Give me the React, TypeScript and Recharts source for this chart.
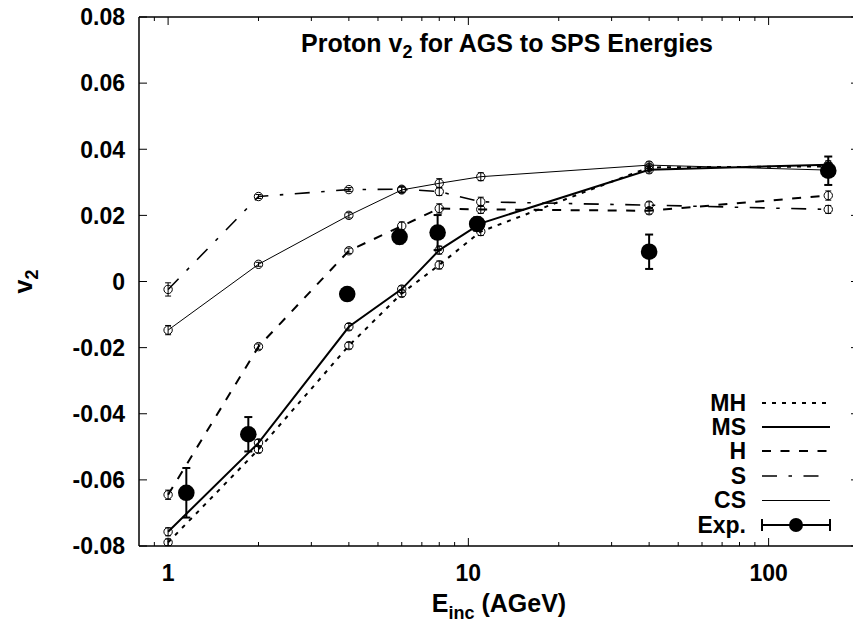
import {
  ComposedChart,
  Line,
  Scatter,
  XAxis,
  YAxis,
  ErrorBar,
  Label,
} from 'recharts';

// model energies (AGeV)
const energies = [1, 2, 4, 6, 8, 11, 40, 158];

const mhValues = [-0.0789, -0.0508, -0.0194, -0.0036, 0.005, 0.0151, 0.0345, 0.0348];
const mhErrors = [0.001, 0.001, 0.001, 0.001, 0.0012, 0.0012, 0.001, 0.0012];

const msValues = [-0.0757, -0.0488, -0.0137, -0.0023, 0.0095, 0.0176, 0.0338, 0.0353];
const msErrors = [0.0012, 0.001, 0.001, 0.001, 0.0012, 0.0012, 0.001, 0.0012];

const hValues = [-0.0645, -0.0197, 0.0093, 0.0168, 0.0221, 0.0218, 0.0214, 0.026];
const hErrors = [0.0014, 0.0008, 0.0008, 0.0012, 0.0014, 0.0012, 0.001, 0.0014];

const sValues = [-0.0024, 0.0257, 0.0278, 0.0279, 0.0272, 0.0241, 0.0231, 0.0218];
const sErrors = [0.002, 0.0006, 0.0006, 0.0008, 0.0012, 0.0014, 0.001, 0.0012];

const csValues = [-0.0147, 0.0052, 0.02, 0.0277, 0.0297, 0.0317, 0.0352, 0.0337];
const csErrors = [0.0014, 0.0006, 0.0008, 0.0008, 0.0014, 0.0012, 0.001, 0.001];

// experimental points
const expEnergies = [1.15, 1.85, 3.95, 5.9, 7.9, 10.7, 40, 158];
const expValues = [-0.0639, -0.0462, -0.0038, 0.0135, 0.0148, 0.0174, 0.009, 0.0335];
const expErrors = [0.0075, 0.0052, 0.001, 0.002, 0.0053, 0.002, 0.0052, 0.0043];

// axes
const xMajorTicks = [1, 10, 100];
const xMinorTicks = [0.9, 2, 3, 4, 5, 6, 7, 8, 9, 20, 30, 40, 50, 60, 70, 80, 90];
const yTicks = [-0.08, -0.06, -0.04, -0.02, 0, 0.02, 0.04, 0.06, 0.08];

const FONT = '"Liberation Sans", Arial, Helvetica, sans-serif';
const FS = 23;
const TITLE_FS = 25;

const toRows = (xs: number[], vs: number[], es: number[]) =>
  xs.map((e, i) => ({ e, v: vs[i], err: es[i] }));

const series = [
  { name: 'MH', values: mhValues, errors: mhErrors, width: 2, dash: '4 6' },
  { name: 'MS', values: msValues, errors: msErrors, width: 2, dash: undefined },
  { name: 'H', values: hValues, errors: hErrors, width: 2, dash: '9 9.5' },
  { name: 'S', values: sValues, errors: sErrors, width: 1.6, dash: '15 11.5 3.5 11.5' },
  { name: 'CS', values: csValues, errors: csErrors, width: 1, dash: undefined },
];

const expData = toRows(expEnergies, expValues, expErrors);
const allXTicks = [...xMinorTicks, ...xMajorTicks].sort((a, b) => a - b);

const textStyle = { fontFamily: FONT, fontWeight: 'bold' as const, fontSize: FS, fill: '#000' };
const titleStyle = { ...textStyle, fontSize: TITLE_FS };

function BottomTick(props: any) {
  const { x, y, payload } = props;
  const major = xMajorTicks.includes(payload.value);
  return (
    <g>
      <line x1={x} x2={x} y1={y} y2={y - (major ? 8 : 4)} stroke="#000" strokeWidth={1} />
      {major && (
        <text x={x} y={y + 35} textAnchor="middle" {...textStyle}>
          {payload.value}
        </text>
      )}
    </g>
  );
}

function TopTick(props: any) {
  const { x, y, payload } = props;
  const major = xMajorTicks.includes(payload.value);
  return <line x1={x} x2={x} y1={y} y2={y + (major ? 8 : 4)} stroke="#000" strokeWidth={1} />;
}

function LeftTick(props: any) {
  const { x, y, payload } = props;
  const v = payload.value;
  const label = Math.abs(v) < 1e-9 ? '0' : v.toFixed(2);
  return (
    <g>
      <line x1={x} x2={x + 8} y1={y} y2={y} stroke="#000" strokeWidth={1} />
      <text x={x - 14} y={y} dy="0.36em" textAnchor="end" {...textStyle}>
        {label}
      </text>
    </g>
  );
}

function RightTick(props: any) {
  const { x, y } = props;
  return <line x1={x} x2={x - 8} y1={y} y2={y} stroke="#000" strokeWidth={1} />;
}

function OpenCircle(props: any) {
  const { cx, cy, index } = props;
  if (cx == null || cy == null) return <g key={index} />;
  return <circle key={index} cx={cx} cy={cy} r={4.2} fill="none" stroke="#000" strokeWidth={1} />;
}

function ExpDot(props: any) {
  const { cx, cy } = props;
  return <circle cx={cx} cy={cy} r={8.3} fill="#000" />;
}

function XTitle(props: any) {
  const { viewBox } = props;
  const cx = viewBox.x + viewBox.width / 2;
  return (
    <text x={cx} y={viewBox.y + 66} textAnchor="middle" {...titleStyle}>
      E
      <tspan fontSize={18} dy={7}>inc</tspan>
      <tspan dy={-7}> (AGeV)</tspan>
    </text>
  );
}

function TopTitle(props: any) {
  const { viewBox } = props;
  const cx = viewBox.x + viewBox.width / 2 + 8;
  return (
    <text x={cx} y={52} textAnchor="middle" {...titleStyle}>
      Proton v
      <tspan fontSize={18} dy={6}>2</tspan>
      <tspan dy={-6}> for AGS to SPS Energies</tspan>
    </text>
  );
}

function YTitle(props: any) {
  const { viewBox } = props;
  const cy = viewBox.y + viewBox.height / 2;
  return (
    <text x={0} y={0} transform={`translate(32, ${cy}) rotate(-90)`} textAnchor="middle" {...titleStyle}>
      v
      <tspan fontSize={18} dy={6}>2</tspan>
    </text>
  );
}

function LegendOverlay() {
  const rowY = [403, 427, 451, 476, 500, 525];
  const x0 = 762;
  const x1 = 830;
  const expY = rowY[5];
  return (
    <svg
      width={853}
      height={622}
      style={{ position: 'absolute', left: 0, top: 0, pointerEvents: 'none' }}
    >
      {series.map((s, i) => {
        const ly = s.width === 1 ? rowY[i] + 0.5 : rowY[i];
        return (
          <g key={s.name}>
            <text x={746} y={rowY[i]} dy="0.36em" textAnchor="end" {...textStyle}>
              {s.name}
            </text>
            <line
              x1={x0}
              x2={x1}
              y1={ly}
              y2={ly}
              stroke="#000"
              strokeWidth={s.width}
              strokeDasharray={s.dash}
            />
          </g>
        );
      })}
      <text x={746} y={expY} dy="0.36em" textAnchor="end" {...textStyle}>
        Exp.
      </text>
      <line x1={x0} x2={x1} y1={expY} y2={expY} stroke="#000" strokeWidth={2} />
      <line x1={x0} x2={x0} y1={expY - 6} y2={expY + 6} stroke="#000" strokeWidth={2} />
      <line x1={x1} x2={x1} y1={expY - 6} y2={expY + 6} stroke="#000" strokeWidth={2} />
      <circle cx={(x0 + x1) / 2} cy={expY} r={7} fill="#000" />
    </svg>
  );
}

export default function App() {
  const axisLine = { stroke: '#000', strokeWidth: 1.5 };
  return (
    <div
      style={{
        position: 'absolute',
        left: 0,
        top: 0,
        width: 853,
        height: 622,
        overflow: 'hidden',
        background: '#fff',
      }}
    >
      <ComposedChart width={870} height={622} margin={{ top: 16, right: 10, bottom: 36, left: 79 }}>
        <XAxis
          dataKey="e"
          type="number"
          scale="log"
          domain={[0.8, 200]}
          allowDataOverflow
          ticks={allXTicks}
          interval={0}
          height={40}
          tickSize={0}
          tickMargin={0}
          tickLine={false}
          axisLine={axisLine}
          tick={<BottomTick />}
        >
          <Label content={<XTitle />} />
        </XAxis>
        <XAxis
          xAxisId="top"
          orientation="top"
          dataKey="e"
          type="number"
          scale="log"
          domain={[0.8, 200]}
          allowDataOverflow
          ticks={allXTicks}
          interval={0}
          height={1}
          tickSize={0}
          tickMargin={0}
          tickLine={false}
          axisLine={axisLine}
          tick={<TopTick />}
        >
          <Label content={<TopTitle />} />
        </XAxis>
        <YAxis
          type="number"
          domain={[-0.08, 0.08]}
          allowDataOverflow
          ticks={yTicks}
          interval={0}
          width={60}
          tickSize={0}
          tickMargin={0}
          tickLine={false}
          axisLine={axisLine}
          tick={<LeftTick />}
        >
          <Label content={<YTitle />} />
        </YAxis>
        <YAxis
          yAxisId="right"
          orientation="right"
          type="number"
          domain={[-0.08, 0.08]}
          allowDataOverflow
          ticks={yTicks}
          interval={0}
          width={1}
          tickSize={0}
          tickMargin={0}
          tickLine={false}
          axisLine={axisLine}
          tick={<RightTick />}
        />
        {series.map((s) => (
          <Line
            key={s.name}
            name={s.name}
            data={toRows(energies, s.values, s.errors)}
            dataKey="v"
            type="linear"
            stroke="#000"
            strokeWidth={s.width}
            strokeDasharray={s.dash}
            dot={(p: any) => <OpenCircle {...p} />}
            activeDot={false}
            isAnimationActive={false}
          >
            <ErrorBar dataKey="err" direction="y" width={3} stroke="#000" strokeWidth={1} />
          </Line>
        ))}
        <Scatter
          name="Exp."
          data={expData}
          dataKey="v"
          shape={<ExpDot />}
          isAnimationActive={false}
        >
          <ErrorBar dataKey="err" direction="y" width={4} stroke="#000" strokeWidth={2} />
        </Scatter>
      </ComposedChart>
      <LegendOverlay />
    </div>
  );
}
